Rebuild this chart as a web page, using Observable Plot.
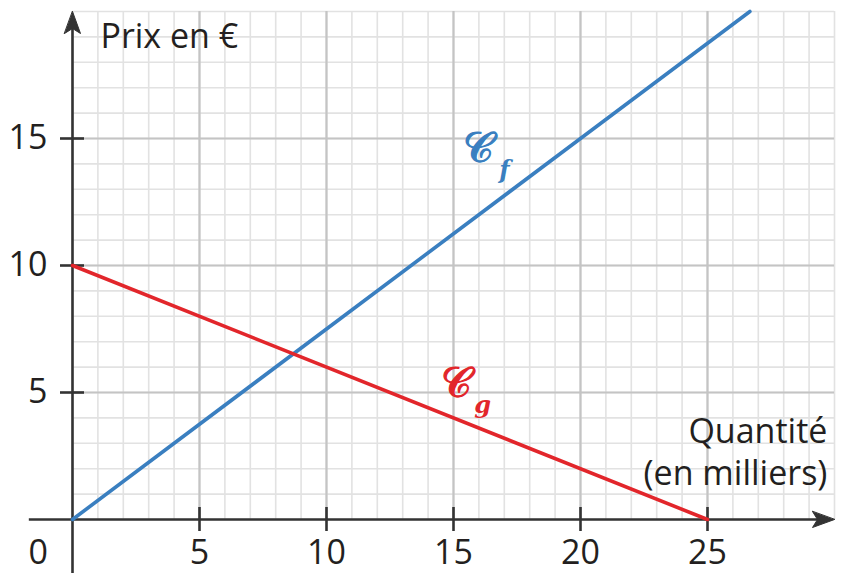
<!DOCTYPE html>
<html><head><meta charset="utf-8">
<script src="https://cdn.jsdelivr.net/npm/d3@7"></script>
<script src="https://cdn.jsdelivr.net/npm/@observablehq/plot@0.6"></script>
<style>body{margin:0;background:#fff}</style>
</head><body><div id="chart"></div>
<script>
// Data
const fQuantite = [0, 20, 26.67];
const fPrix = [0, 15, 20];
const gQuantite = [0, 25];
const gPrix = [10, 0];
const xTickValues = [5, 10, 15, 20, 25];
const yTickValues = [5, 10, 15];
const xMinorGrid = d3.range(0, 31, 1);
const yMinorGrid = d3.range(0, 21, 1);
const xMajorGrid = [5, 10, 15, 20, 25];
const yMajorGrid = [5, 10, 15];
const curveLabels = [
  {name: "𝒞", sub: "f", x: 16.0, y: 14.6, sx: 17.0, sy: 13.75, color: "#3a7fc0"},
  {name: "𝒞", sub: "g", x: 15.1, y: 5.35, sx: 16.15, sy: 4.5, color: "#e2262b"}
];

const fData = fQuantite.map((q, i) => ({q, p: fPrix[i]}));
const gData = gQuantite.map((q, i) => ({q, p: gPrix[i]}));

const axisColor = "#333";
const textColor = "#231f20";
const arrowHead = {
  draw(context, l) {
    context.moveTo(0, -l);
    context.lineTo(8, 0);
    context.lineTo(0, -5);
    context.lineTo(-8, 0);
    context.closePath();
  }
};

const chart = Plot.plot({
  width: 843,
  height: 573,
  marginLeft: 72,
  marginRight: 9,
  marginTop: 11,
  marginBottom: 54,
  style: {fontFamily: "Open Sans", fontSize: "34px", color: textColor, background: "#fff"},
  x: {domain: [0, 30], axis: null},
  y: {domain: [0, 20], axis: null},
  marks: [
    Plot.ruleX(xMinorGrid, {stroke: "#e2e2e2", strokeWidth: 1.6}),
    Plot.ruleY(yMinorGrid, {stroke: "#e2e2e2", strokeWidth: 1.6, x1: 0, x2: 30}),
    Plot.ruleX(xMajorGrid, {stroke: "#c4c4c4", strokeWidth: 2.2}),
    Plot.ruleY(yMajorGrid, {stroke: "#c4c4c4", strokeWidth: 2.2, x1: 0, x2: 30}),
    // axes lines
    Plot.ruleY([0], {x1: -1.7, x2: 29.5, stroke: axisColor, strokeWidth: 2.6}),
    Plot.ruleX([0], {y1: -2.3, y2: 19.5, stroke: axisColor, strokeWidth: 2.6}),
    Plot.vector([0], {x: 30, y: 0, rotate: 90, length: 22, anchor: "end", shape: arrowHead, fill: axisColor, stroke: axisColor, strokeWidth: 1}),
    Plot.vector([0], {x: 0, y: 20, rotate: 0, length: 22, anchor: "end", shape: arrowHead, fill: axisColor, stroke: axisColor, strokeWidth: 1}),
    // tick marks crossing the axes
    Plot.ruleX(xTickValues, {y1: 0, y2: 0, insetTop: -12, insetBottom: -12, stroke: axisColor, strokeWidth: 2.6}),
    Plot.ruleY(yTickValues, {x1: 0, x2: 0, insetLeft: -12, insetRight: -12, stroke: axisColor, strokeWidth: 2.6}),
    // tick labels
    Plot.axisX(xTickValues, {tickSize: 0, tickPadding: 20, fill: textColor, fontSize: 34}),
    Plot.axisY(yTickValues, {tickSize: 0, tickPadding: 25, fill: textColor, fontSize: 34}),
    Plot.text(["0"], {x: -1.35, y: 0, text: d => d, lineAnchor: "top", dy: 20, fill: textColor, fontSize: 34}),
    // lines
    Plot.line(fData, {x: "q", y: "p", stroke: "#3a7fc0", strokeWidth: 3.6}),
    Plot.line(gData, {x: "q", y: "p", stroke: "#e2262b", strokeWidth: 3.6}),
    // axis titles
    Plot.text(["Prix en €"], {x: 1.1, y: 18.58, text: d => d, textAnchor: "start", lineAnchor: "bottom", fill: textColor, fontSize: 34}),
    Plot.text(["Quantité\n(en milliers)"], {x: 29.72, y: 1.34, text: d => d, textAnchor: "end", lineAnchor: "bottom", lineHeight: 1.26, fill: textColor, fontSize: 34}),
    // curve labels
    Plot.text(curveLabels, {x: "x", y: "y", text: "name", fill: "color", stroke: "color", strokeWidth: 1.3, fontSize: 42, fontFamily: "DejaVu Serif"}),
    Plot.text(curveLabels, {x: "sx", y: "sy", text: "sub", fill: "color", fontSize: 24, fontFamily: "DejaVu Serif", fontStyle: "italic", fontWeight: "bold"})
  ]
});
document.getElementById("chart").appendChild(chart);
</script>
</body></html>
